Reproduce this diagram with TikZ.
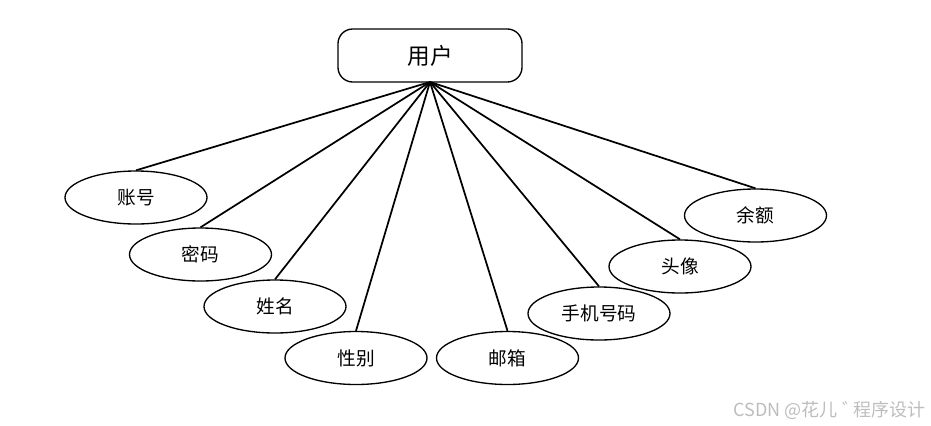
\documentclass[tikz,border=0pt]{standalone}
\usepackage{fontspec}
\setmainfont{Liberation Serif}
\newfontfamily\cjk{Noto Sans CJK SC}
\usetikzlibrary{shapes.geometric}
\definecolor{wm}{HTML}{BDBDBD}
\tikzset{
  attr/.style={ellipse, draw=black, line width=1pt, minimum width=142*0.75pt, minimum height=53*0.75pt, inner sep=0pt, font=\cjk\fontsize{14}{16}\selectfont},
  ent/.style={rectangle, rounded corners=11pt, draw=black, line width=1pt, minimum width=184*0.75pt, minimum height=53*0.75pt, inner sep=0pt, font=\cjk\fontsize{17}{19}\selectfont},
  link/.style={line width=1.3pt}
}
\begin{document}
\begin{tikzpicture}[x=0.75pt,y=-0.75pt]
\useasboundingbox (0,0) rectangle (931,425);
\node[ent] (user) at (430,55.5) {用户};
\coordinate (hub) at (430,82);
\node[attr] (a1) at (136,197.5) {账号};
\node[attr] (a2) at (200.5,254.5) {密码};
\node[attr] (a3) at (275,306.5) {姓名};
\node[attr] (a4) at (356,358) {性别};
\node[attr] (a5) at (507.5,358) {邮箱};
\node[attr] (a6) at (599,313.5) {手机号码};
\node[attr] (a7) at (680,266.5) {头像};
\node[attr] (a8) at (755.5,215.5) {余额};
\foreach \n in {a1,a2,a3,a4,a5,a6,a7,a8}
  \draw[link] (hub) -- (\n.north);
\node[anchor=east, text=wm, font=\cjk\fontsize{13.5}{15}\selectfont, inner sep=0pt] (wmk) at (926,410) {CSDN @花儿\kern0.25em゛\kern-0.35em程序设计};
\end{tikzpicture}
\end{document}
